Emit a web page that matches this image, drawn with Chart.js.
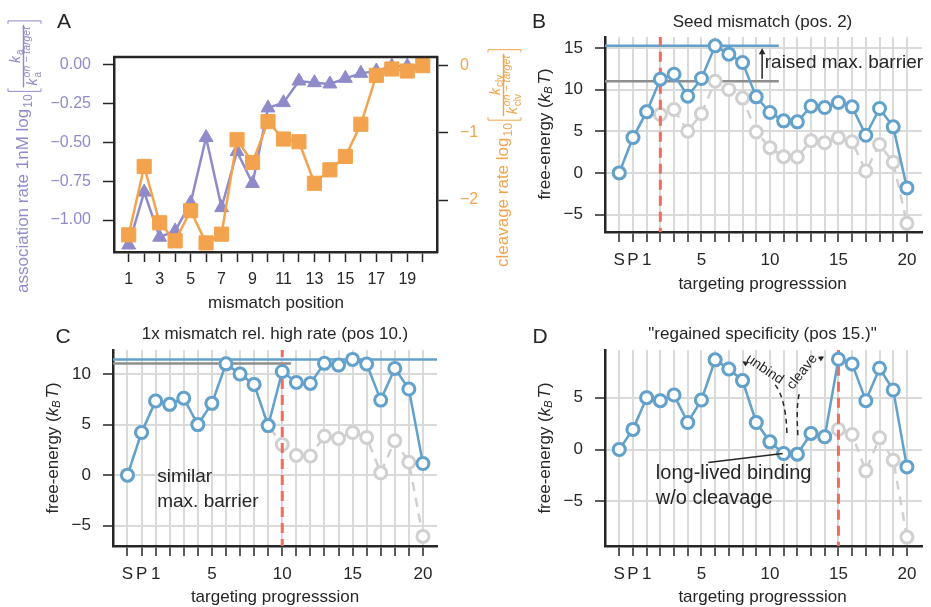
<!DOCTYPE html>
<html>
<head>
<meta charset="utf-8">
<script src="https://cdn.jsdelivr.net/npm/chart.js@4.4.0/dist/chart.umd.min.js"></script>
<style>
  body { margin: 0; background: #fff; }
  #fig { position: relative; width: 931px; height: 607px; overflow: hidden; }
  canvas { position: absolute; }
</style>
</head>
<body>
<div id="fig">
  <canvas id="panelA" width="525" height="318" style="left:0;top:0"></canvas>
  <canvas id="panelB" width="461" height="300" style="left:470px;top:0"></canvas>
  <canvas id="panelC" width="470" height="307" style="left:0;top:300px"></canvas>
  <canvas id="panelD" width="461" height="307" style="left:470px;top:300px"></canvas>
</div>
<script>
// ---- panel A data ----
const mismatchPos = [1, 2, 3, 4, 5, 6, 7, 8, 9, 10, 11, 12, 13, 14, 15, 16, 17, 18, 19, 20];
const mismatchTickLabels = [1, 3, 5, 7, 9, 11, 13, 15, 17, 19];
const assocRate = [-1.16, -0.82, -1.11, -1.07, -0.89, -0.47, -0.92, -0.56, -0.765, -0.28, -0.246, -0.107, -0.118, -0.126, -0.09, -0.058, -0.043, -0.012, -0.012, -0.008];
const cleaveRate = [-2.52, -1.50, -2.34, -2.61, -2.16, -2.64, -2.51, -1.10, -1.44, -0.83, -1.09, -1.13, -1.75, -1.55, -1.35, -0.87, -0.14, -0.045, -0.075, 0.005];
const assocTicks = [0, -0.25, -0.5, -0.75, -1];
const cleaveTicks = [0, -1, -2];

// ---- energy landscapes (S, P, 1..20) ----
const steps = ['S', 'P', '1', '2', '3', '4', '5', '6', '7', '8', '9', '10', '11', '12', '13', '14', '15', '16', '17', '18', '19', '20'];
const stepTickLabels = ['S', 'P', '1', '5', '10', '15', '20'];
const onTarget = [0, 4.22, 7.33, 7.0, 7.6, 5.0, 7.1, 11.0, 10.0, 8.97, 4.9, 3.03, 1.95, 1.9, 3.85, 3.62, 4.22, 3.73, 0.23, 3.4, 1.28, -6.05];
const seedMismatch = [0, 4.24, 7.32, 11.24, 11.84, 9.2, 11.32, 15.24, 14.24, 13.24, 9.12, 7.24, 6.24, 6.12, 8.0, 7.84, 8.44, 7.92, 4.52, 7.72, 5.52, -1.8];
const pos10Mismatch = [0, 4.22, 7.33, 7.0, 7.6, 5.0, 7.1, 11.0, 10.0, 8.97, 4.9, 10.25, 9.17, 9.07, 11.05, 10.88, 11.44, 10.98, 7.42, 10.55, 8.51, 1.15];
const onTargetD = [0, 1.94, 5.0, 4.71, 5.26, 2.61, 4.77, 8.65, 7.77, 6.65, 2.61, 0.74, -0.39, -0.45, 1.55, 1.23, 1.94, 1.45, -2.06, 1.13, -1.03, -8.45];
const pos15Mismatch = [0, 1.94, 5.0, 4.71, 5.26, 2.61, 4.77, 8.65, 7.77, 6.65, 2.61, 0.74, -0.39, -0.45, 1.55, 1.23, 8.71, 8.26, 4.71, 7.84, 5.74, -1.68];
const energyTicksB = [-5, 0, 5, 10, 15];
const energyTicksC = [-5, 0, 5, 10];
const energyTicksD = [-5, 0, 5];

const FONT = '"Liberation Sans", Arial, Helvetica, sans-serif';
const INK = '#262626';
const BLUE = '#62a1cb';
const LIGHT = '#d0d0d0';
const GRID = '#dadada';
const BARRIER = '#8e8e8e';
const RED = '#f36b5b';
const PURPLE = '#8f8bca';
const ORANGE = '#f3a34d';

Chart.defaults.font.family = FONT;
Chart.defaults.color = INK;

function pts(arr) {
  return arr.map((y, i) => ({ x: i, y: y }));
}

// force axis sizes so the plot areas line up with the figure
function fixSize(w, h) {
  return function (s) {
    if (w !== null) s.width = w;
    if (h !== null) s.height = h;
    s.paddingLeft = 0; s.paddingRight = 0; s.paddingTop = 0; s.paddingBottom = 0;
  };
}

function setTicks(vals) {
  return function (s) { s.ticks = vals.map(v => ({ value: v })); };
}

function minus(v) {
  return v < 0 ? '\u2212' + Math.abs(v) : String(v);
}

function drawRich(ctx, parts, cx, cy, angle, color) {
  ctx.save();
  ctx.translate(cx, cy);
  ctx.rotate(angle);
  ctx.fillStyle = color;
  ctx.textBaseline = 'middle';
  ctx.textAlign = 'left';
  let w = 0;
  parts.forEach(p => { ctx.font = p.f; w += ctx.measureText(p.t).width + (p.gap || 0); });
  let x = -w / 2;
  parts.forEach(p => {
    ctx.font = p.f;
    ctx.fillText(p.t, x, p.dy || 0);
    x += ctx.measureText(p.t).width + (p.gap || 0);
  });
  ctx.restore();
}

function text(ctx, str, x, y, size, opts) {
  opts = opts || {};
  ctx.save();
  ctx.font = (opts.weight || '') + ' ' + size + 'px ' + FONT;
  ctx.fillStyle = opts.color || INK;
  ctx.textAlign = opts.align || 'center';
  ctx.textBaseline = 'middle';
  ctx.fillText(str, x, y);
  ctx.restore();
}

function energyLabel(ctx, x, y) {
  drawRich(ctx, [
    { t: 'free-energy (', f: `17px ${FONT}` },
    { t: 'k', f: `italic 17px ${FONT}` },
    { t: 'B', f: `italic 11px ${FONT}`, dy: 4, gap: 2 },
    { t: 'T', f: `italic 17px ${FONT}` },
    { t: ')', f: `17px ${FONT}` }
  ], x, y, -Math.PI / 2, INK);
}

// rotated axis title with a bracketed ratio, e.g. log10[ k / k^on-target ]
function fracTitle(ctx, x0, y0, color, main, sym, sub) {
  ctx.save();
  ctx.translate(x0, y0);
  ctx.rotate(-Math.PI / 2);
  ctx.fillStyle = color;
  ctx.strokeStyle = color;
  ctx.textAlign = 'left';
  ctx.textBaseline = 'alphabetic';
  ctx.font = `17px ${FONT}`;
  ctx.fillText(main, 0, 0);
  let x = ctx.measureText(main).width + 1;
  ctx.font = `12px ${FONT}`;
  ctx.fillText('10', x, 4);
  x += ctx.measureText('10').width + 3;

  const kFont = `italic 14px ${FONT}`;
  const subFont = `10px ${FONT}`;
  const supFont = `italic 10.5px ${FONT}`;
  ctx.font = kFont; const kw = ctx.measureText(sym).width;
  ctx.font = subFont; const sw = ctx.measureText(sub).width;
  ctx.font = supFont; const supw = ctx.measureText('on \u2212 target').width;
  const numW = kw + sw + 1;
  const denW = kw + Math.max(sw, supw) + 1;
  const fw = Math.max(numW, denW) + 4;

  // opening bracket
  const bTop = -20, bBot = 13;
  ctx.lineWidth = 1;
  ctx.beginPath();
  ctx.moveTo(x + 3, bTop); ctx.lineTo(x, bTop); ctx.lineTo(x, bBot); ctx.lineTo(x + 3, bBot);
  ctx.stroke();
  const fx = x + 4;
  // fraction bar
  ctx.lineWidth = 1.4;
  ctx.beginPath();
  ctx.moveTo(fx, -4.5); ctx.lineTo(fx + fw, -4.5);
  ctx.stroke();
  // numerator
  const nx = fx + (fw - numW) / 2;
  ctx.font = kFont; ctx.fillText(sym, nx, -8);
  ctx.font = subFont; ctx.fillText(sub, nx + kw + 1, -5);
  // denominator
  const dx = fx + (fw - denW) / 2;
  ctx.font = kFont; ctx.fillText(sym, dx, 9);
  ctx.font = subFont; ctx.fillText(sub, dx + kw + 1, 12.5);
  ctx.font = supFont; ctx.fillText('on \u2212 target', dx + kw + 1, 2);
  // closing bracket
  const cx = fx + fw + 4;
  ctx.lineWidth = 1;
  ctx.beginPath();
  ctx.moveTo(cx - 3, bTop); ctx.lineTo(cx, bTop); ctx.lineTo(cx, bBot); ctx.lineTo(cx - 3, bBot);
  ctx.stroke();
  ctx.restore();
}

function arrowHead(ctx, x, y, angle, size) {
  ctx.save();
  ctx.translate(x, y);
  ctx.rotate(angle);
  ctx.beginPath();
  ctx.moveTo(0, 0);
  ctx.lineTo(-size, -size * 0.55);
  ctx.lineTo(-size, size * 0.55);
  ctx.closePath();
  ctx.fill();
  ctx.restore();
}

// ================= PANEL A =================
new Chart(document.getElementById('panelA'), {
  type: 'line',
  data: {
    datasets: [
      {
        label: 'cleavage rate',
        data: mismatchPos.map((p, i) => ({ x: p, y: cleaveRate[i] })),
        yAxisID: 'yR',
        borderColor: ORANGE, backgroundColor: ORANGE, borderWidth: 2.5,
        pointStyle: 'rect', pointRadius: 10, pointBorderWidth: 1,
        pointBackgroundColor: ORANGE, pointBorderColor: ORANGE,
        order: 1
      },
      {
        label: 'association rate',
        data: mismatchPos.map((p, i) => ({ x: p, y: assocRate[i] })),
        yAxisID: 'yL',
        borderColor: PURPLE, backgroundColor: PURPLE, borderWidth: 2.5,
        pointStyle: 'triangle', pointRadius: 8, pointBorderWidth: 1,
        pointBackgroundColor: PURPLE, pointBorderColor: PURPLE,
        order: 2
      }
    ]
  },
  options: {
    responsive: false, animation: false, events: [],
    layout: { padding: { top: 57, left: 0, right: 0, bottom: 0 } },
    plugins: { legend: { display: false }, tooltip: { enabled: false } },
    scales: {
      x: {
        type: 'linear', min: 0.05, max: 20.92,
        afterBuildTicks: setTicks(mismatchPos),
        afterFit: fixSize(null, 66),
        grid: { drawOnChartArea: false, tickColor: INK, tickLength: 10, tickWidth: 1.5 },
        border: { display: true, color: INK, width: 2.5 },
        ticks: {
          autoSkip: false, maxRotation: 0, padding: 8, color: INK, font: { size: 16 },
          callback: v => mismatchTickLabels.includes(v) ? String(v) : ''
        }
      },
      yL: {
        type: 'linear', position: 'left', min: -1.205, max: 0.047,
        afterBuildTicks: setTicks(assocTicks),
        afterFit: fixSize(114, null),
        grid: { drawOnChartArea: false, tickColor: INK, tickLength: 11, tickWidth: 1.5 },
        border: { display: true, color: INK, width: 2.5 },
        ticks: {
          padding: 12, color: PURPLE, font: { size: 16 },
          callback: v => (v < 0 ? '\u2212' : '') + Math.abs(v).toFixed(2)
        }
      },
      yR: {
        type: 'linear', position: 'right', min: -2.776, max: 0.134,
        afterBuildTicks: setTicks(cleaveTicks),
        afterFit: fixSize(88, null),
        grid: { drawOnChartArea: false, tickColor: INK, tickLength: 11, tickWidth: 1.5 },
        border: { display: true, color: INK, width: 2.5 },
        ticks: { padding: 12, color: ORANGE, font: { size: 16 }, callback: minus }
      }
    }
  },
  plugins: [{
    id: 'overlayA',
    afterDraw(chart) {
      const ctx = chart.ctx, a = chart.chartArea;
      ctx.save();
      ctx.strokeStyle = INK; ctx.lineWidth = 2.5;
      ctx.beginPath();
      ctx.moveTo(a.left - 1, a.top); ctx.lineTo(a.right + 1, a.top);
      ctx.stroke();
      ctx.restore();
      text(ctx, 'A', 64, 22, 21);
      text(ctx, 'mismatch position', (a.left + a.right) / 2 + 0.5, 303, 17);
      fracTitle(ctx, 28, 293, PURPLE, 'association rate 1nM log', 'k', 'a');
      fracTitle(ctx, 508, 267, ORANGE, 'cleavage rate log', 'k', 'clv');
    }
  }]
});

// ================= ENERGY PANELS =================
function energyChart(id, o) {
  const datasets = [
    {
      label: o.blueLabel,
      data: pts(o.blue),
      borderColor: BLUE, borderWidth: 2.5,
      pointRadius: 6, pointBorderWidth: 3,
      pointBackgroundColor: '#fff', pointBorderColor: BLUE,
      order: 1
    },
    {
      label: 'mismatch',
      data: [{ x: o.mismatchStep, y: -50 }, { x: o.mismatchStep, y: 50 }],
      borderColor: RED, borderWidth: 3, borderDash: [10, 6],
      pointRadius: 0, order: 2
    },
    {
      label: 'on-target',
      data: pts(o.gray),
      borderColor: LIGHT, borderWidth: 2.5, borderDash: [9, 7],
      pointRadius: 6, pointBorderWidth: 3,
      pointBackgroundColor: '#fff', pointBorderColor: LIGHT,
      order: 3
    }
  ];
  (o.barriers || []).forEach((b, k) => {
    datasets.push({
      label: 'barrier ' + k,
      data: [{ x: o.xMin, y: b.value }, { x: b.end, y: b.value }],
      borderColor: b.color, borderWidth: 2.5, pointRadius: 0,
      order: 4 + k
    });
  });

  return new Chart(document.getElementById(id), {
    type: 'line',
    data: { datasets: datasets },
    options: {
      responsive: false, animation: false, events: [],
      layout: { padding: { top: o.top, right: o.right, left: 0, bottom: 0 } },
      plugins: { legend: { display: false }, tooltip: { enabled: false } },
      scales: {
        x: {
          type: 'linear', min: o.xMin, max: o.xMax,
          afterBuildTicks: setTicks(steps.map((_, i) => i)),
          afterFit: fixSize(null, o.xAxisH),
          grid: { color: GRID, lineWidth: 2, tickColor: INK, tickLength: 10, tickWidth: 1.5 },
          border: { display: true, color: INK, width: 2.5 },
          ticks: {
            autoSkip: false, maxRotation: 0, padding: 8, color: INK, font: { size: 17 },
            callback: v => stepTickLabels.includes(steps[v]) ? steps[v] : ''
          }
        },
        y: {
          type: 'linear', min: o.yMin, max: o.yMax,
          afterBuildTicks: setTicks(o.yTicks),
          afterFit: fixSize(o.yAxisW, null),
          grid: { color: GRID, lineWidth: 2, tickColor: INK, tickLength: 10, tickWidth: 1.5 },
          border: { display: true, color: INK, width: 2.5 },
          ticks: { padding: 12, color: INK, font: { size: 17 }, callback: minus }
        }
      }
    },
    plugins: [{
      id: 'overlay' + id,
      afterDraw(chart) {
        const ctx = chart.ctx, a = chart.chartArea;
        const X = v => chart.scales.x.getPixelForValue(v);
        const Y = v => chart.scales.y.getPixelForValue(v);
        const mid = (a.left + a.right) / 2;
        text(ctx, o.letter, o.letterX, o.letterY, 21);
        text(ctx, o.title, mid + o.titleDx, o.titleY, 17);
        text(ctx, 'targeting progresssion', mid + o.titleDx, o.xTitleY, 17);
        energyLabel(ctx, o.yTitleX, o.yTitleY);
        if (o.notes) o.notes(ctx, X, Y);
      }
    }]
  });
}

// B: seed mismatch at position 2
energyChart('panelB', {
  letter: 'B', letterX: 69, letterY: 22,
  title: 'Seed mismatch (pos. 2)', titleDx: -1, titleY: 22, xTitleY: 284,
  yTitleX: 75, yTitleY: 134,
  top: 37, right: 1, yAxisW: 135, xAxisH: 68,
  xMin: -1.04, xMax: 22.1, yMin: -7.09, yMax: 16.3, yTicks: energyTicksB,
  blue: seedMismatch, gray: onTarget, blueLabel: 'seed mismatch', mismatchStep: 3,
  barriers: [
    { value: 15.24, end: 11.65, color: BLUE },
    { value: 11.0, end: 11.65, color: BARRIER }
  ],
  notes(ctx, X, Y) {
    ctx.save();
    ctx.strokeStyle = INK; ctx.fillStyle = INK; ctx.lineWidth = 1.5;
    ctx.beginPath();
    ctx.moveTo(X(10.43), Y(11.3)); ctx.lineTo(X(10.43), Y(14.7));
    ctx.stroke();
    arrowHead(ctx, X(10.43), Y(14.95), -Math.PI / 2, 6);
    ctx.restore();
    text(ctx, 'raised max. barrier', X(10.62), Y(13.25), 19, { align: 'left' });
  }
});

// C: mismatch at position 10
energyChart('panelC', {
  letter: 'C', letterX: 63, letterY: 37,
  title: '1x mismatch rel. high rate (pos 10.)', titleDx: 0, titleY: 34, xTitleY: 297,
  yTitleX: 53, yTitleY: 148,
  top: 50, right: 33, yAxisW: 113, xAxisH: 61,
  xMin: -1.03, xMax: 22.0, yMin: -7.0, yMax: 12.37, yTicks: energyTicksC,
  blue: pos10Mismatch, gray: onTarget, blueLabel: 'pos 10 mismatch', mismatchStep: 11,
  barriers: [
    { value: 11.44, end: 22.0, color: BLUE },
    { value: 11.04, end: 11.63, color: BARRIER }
  ],
  notes(ctx, X, Y) {
    text(ctx, 'similar', X(2.11), Y(-0.17), 19, { align: 'left' });
    text(ctx, 'max. barrier', X(2.11), Y(-2.64), 19, { align: 'left' });
  }
});

// D: mismatch at position 15
energyChart('panelD', {
  letter: 'D', letterX: 70, letterY: 37,
  title: '"regained specificity (pos 15.)"', titleDx: -1, titleY: 34, xTitleY: 297,
  yTitleX: 75, yTitleY: 148,
  top: 50, right: 1, yAxisW: 135, xAxisH: 61,
  xMin: -1.04, xMax: 22.1, yMin: -9.31, yMax: 9.6, yTicks: energyTicksD,
  blue: pos15Mismatch, gray: onTargetD, blueLabel: 'pos 15 mismatch', mismatchStep: 16,
  notes(ctx, X, Y) {
    ctx.save();
    ctx.strokeStyle = INK; ctx.fillStyle = INK; ctx.lineWidth = 1.5;
    // pointer to the trapped state
    ctx.beginPath();
    ctx.moveTo(X(6.5), Y(-1.25)); ctx.lineTo(X(11.93), Y(-0.39));
    ctx.stroke();
    // unbind / cleave dashed paths
    ctx.setLineDash([5, 4]);
    ctx.beginPath();
    ctx.moveTo(X(12.24), Y(1.6));
    ctx.quadraticCurveTo(X(12.15), Y(5.0), X(11.35), Y(6.3));
    ctx.stroke();
    ctx.beginPath();
    ctx.moveTo(X(13.04), Y(1.38));
    ctx.quadraticCurveTo(X(12.9), Y(4.3), X(13.15), Y(5.4));
    ctx.stroke();
    ctx.setLineDash([]);
    ctx.beginPath();
    ctx.moveTo(X(9.35), Y(8.25)); ctx.lineTo(X(9.05), Y(8.45));
    ctx.stroke();
    arrowHead(ctx, X(9.0), Y(8.48), Math.atan2(-0.6, -1), 5);
    ctx.beginPath();
    ctx.moveTo(X(14.55), Y(8.8)); ctx.lineTo(X(14.85), Y(8.92));
    ctx.stroke();
    arrowHead(ctx, X(14.95), Y(8.95), Math.atan2(-0.5, 1), 5);
    ctx.restore();

    drawRich(ctx, [{ t: 'unbind', f: `14px ${FONT}` }], X(10.62), Y(7.73), 34 * Math.PI / 180, INK);
    drawRich(ctx, [{ t: 'cleave', f: `14px ${FONT}` }], X(13.36), Y(7.49), -52 * Math.PI / 180, INK);
    text(ctx, 'long-lived binding', X(2.67), Y(-2.32), 20, { align: 'left' });
    text(ctx, 'w/o cleavage', X(2.67), Y(-4.73), 20, { align: 'left' });
  }
});
</script>
</body>
</html>
